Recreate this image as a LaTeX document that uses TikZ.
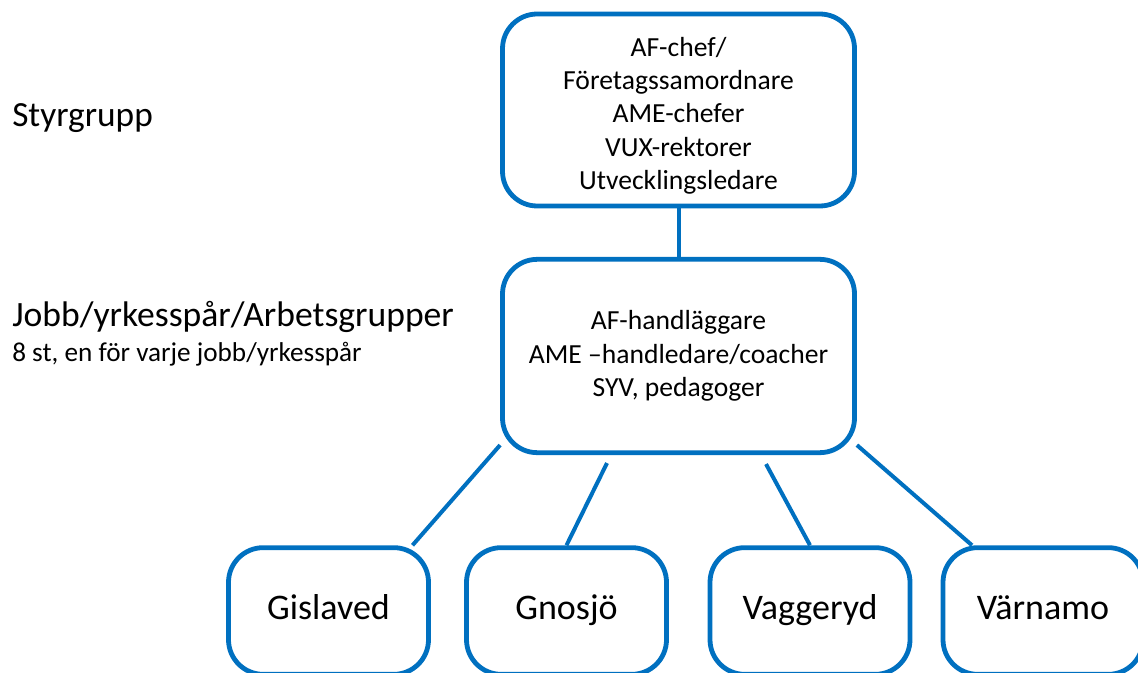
\documentclass[tikz,border=0pt]{standalone}
\usepackage{fontspec}
\setmainfont{Carlito}
\usetikzlibrary{calc}
\definecolor{orgblue}{RGB}{0,112,192}
\begin{document}
\begin{tikzpicture}[x=0.75pt,y=0.75pt,yscale=-1,xscale=1,
    orgbox/.style={draw=orgblue,line width=3.6pt,rounded corners=26pt,fill=white,inner sep=0pt},
    orgline/.style={draw=orgblue,line width=3pt},
    boxtext/.style={align=center,font=\fontsize{20.7}{25}\selectfont},
    placetext/.style={font=\fontsize{27}{30}\selectfont,text height=1.5em,text depth=0.25em}]
        \useasboundingbox (0,0) rectangle (1138,673);
        % boxes
        \node (top) at (678.5,110) [orgbox,boxtext,minimum width=264pt,minimum height=144pt] {\rule{0pt}{23pt}AF-chef/\\Företagssamordnare\\AME-chefer\\VUX-rektorer\\Utvecklingsledare};
        \node (mid) at (678.5,356) [orgbox,boxtext,minimum width=264pt,minimum height=145pt] {AF-handläggare\\AME –handledare/coacher\\SYV, pedagoger};
        \node (gis) at (328.5,611) [orgbox,placetext,minimum width=150pt,minimum height=95pt] {Gislaved};
        \node (gno) at (566.5,611) [orgbox,placetext,minimum width=150pt,minimum height=95pt] {Gnosjö};
        \node (vag) at (810,611) [orgbox,placetext,minimum width=150pt,minimum height=95pt] {Vaggeryd};
        \node (var) at (1043,611) [orgbox,placetext,minimum width=150pt,minimum height=95pt] {Värnamo};
        % connectors
        \draw [orgline] (top.south) -- (mid.north);
        \draw [orgline] ($(mid.south west)+(0,-10)$) -- ($(gis.north)+(84,0)$);
        \draw [orgline] ($(mid.south)+(-71.5,8)$) -- (gno.north);
        \draw [orgline] ($(mid.south)+(87.5,9)$) -- (vag.north);
        \draw [orgline] ($(mid.south east)+(0,-10)$) -- ($(var.north)+(-71,0)$);
        % level labels
        \node (styr) at (12,127) [anchor=base west,font=\fontsize{26.5}{30}\selectfont,inner sep=0pt] {Styrgrupp};
        \node (jobb) at (12,327) [anchor=base west,font=\fontsize{26.7}{30}\selectfont,inner sep=0pt] {Jobb/yrkesspår/Arbetsgrupper};
        \node (antal) at (12,362) [anchor=base west,font=\fontsize{20.4}{24}\selectfont,inner sep=0pt] {8 st, en för varje jobb/yrkesspår};
\end{tikzpicture}
\end{document}
